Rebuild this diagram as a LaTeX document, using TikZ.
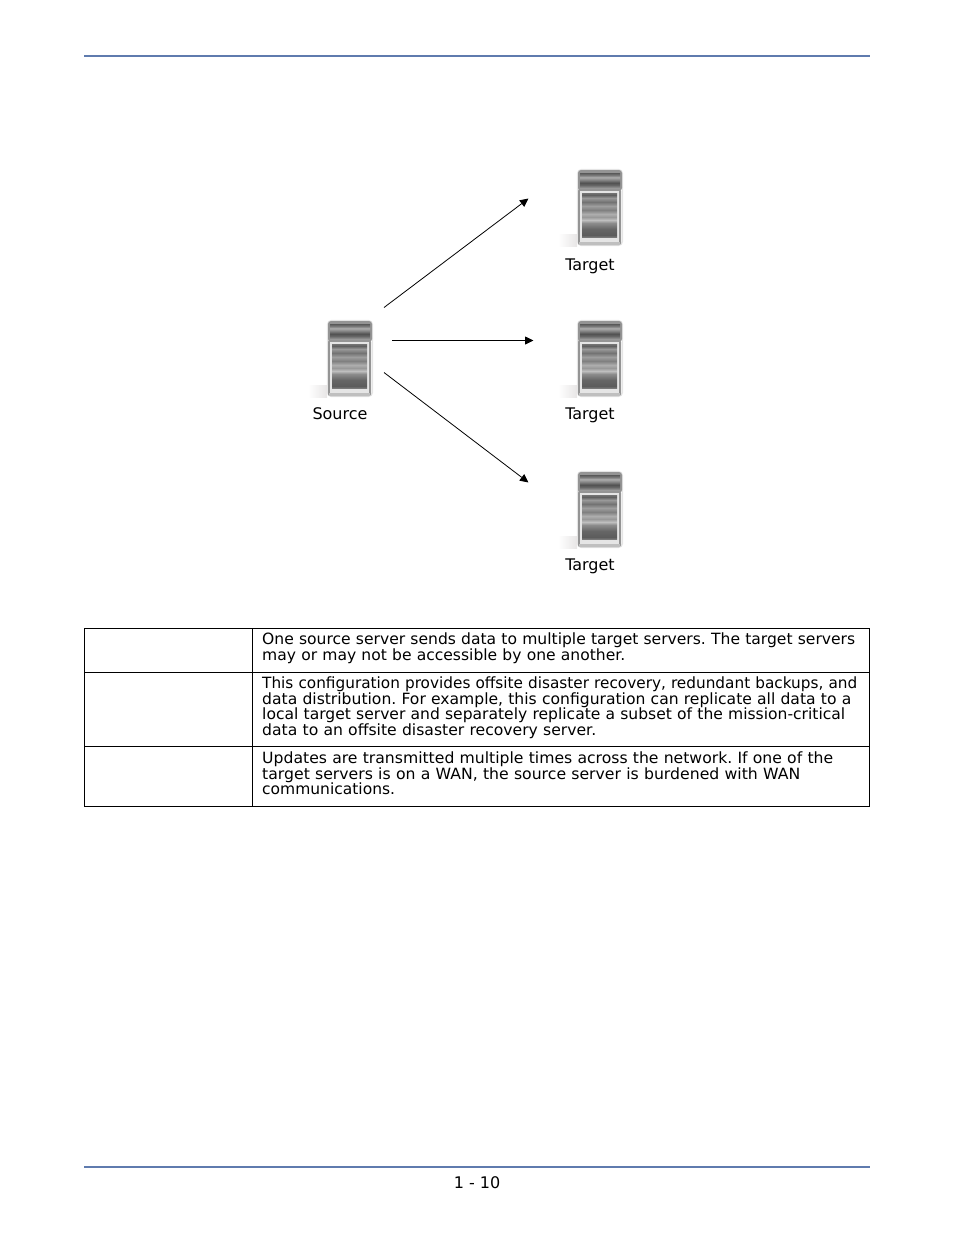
\documentclass[tikz,border=0pt]{standalone}
\usepackage{fontspec}
\usepackage{graphicx}
\setmainfont{DejaVu Sans}
\usetikzlibrary{arrows.meta}
\definecolor{rulecol}{HTML}{5F7BAE}
\newcommand{\cellrow}[2]{\resizebox{#1pt}{\height}{#2}}
\pgfdeclareverticalshading{panelshade}{100bp}{
  rgb(0bp)=(.47,.47,.47); rgb(25bp)=(.47,.47,.47); rgb(27.27bp)=(.36,.36,.36); rgb(34.09bp)=(.40,.40,.40);
  rgb(40.91bp)=(.55,.55,.55); rgb(44.32bp)=(.75,.75,.75); rgb(47.73bp)=(.60,.60,.60);
  rgb(51.14bp)=(.68,.68,.68); rgb(55.68bp)=(.50,.50,.50); rgb(60.23bp)=(.62,.62,.62);
  rgb(64.77bp)=(.45,.45,.45); rgb(69.32bp)=(.60,.60,.60); rgb(72.73bp)=(.38,.38,.38); rgb(75bp)=(.45,.45,.45); rgb(100bp)=(.45,.45,.45)}
\pgfdeclareverticalshading{capshade}{100bp}{
  rgb(0bp)=(.60,.60,.60); rgb(25bp)=(.60,.60,.60); rgb(35bp)=(.40,.40,.40); rgb(43bp)=(.32,.32,.32);
  rgb(52bp)=(.50,.50,.50); rgb(62bp)=(.68,.68,.68); rgb(68bp)=(.50,.50,.50); rgb(75bp)=(.38,.38,.38); rgb(100bp)=(.38,.38,.38)}
\tikzset{
  px/.style={x=1pt,y=-1pt},
  pagerule/.style={draw=rulecol,line width=2pt},
  cellline/.style={draw=black,line width=0.9pt},
  flow/.style={draw=black,line width=0.8pt,-{Triangle[length=8.5pt,width=8pt]}},
  label/.style={font=\fontsize{16pt}{18pt}\selectfont,inner sep=0pt,anchor=base},
  celltext/.style={font=\fontsize{15.5pt}{15.45pt}\selectfont\frenchspacing,inner sep=0pt,anchor=north west,align=left,text width=615pt},
  iconbox/.style={minimum width=44pt,minimum height=75pt,inner sep=0pt,anchor=north west},
  serverpic/.pic={
    \shade[left color=white,right color=red!8!black!10,draw=none] (-20,64) rectangle (-1,76);
    \draw[black!10,line width=1.2pt,rounded corners=4pt] (-0.5,-0.5) rectangle (44.5,75.5);
    % body
    \fill[black!42,rounded corners=3pt] (0,0) rectangle (44,21);
    \fill[black!42,rounded corners=2pt] (0,19) rectangle (43,75);
    % top cap
    \shade[shading=capshade] (2,3.5) rectangle (42,18);
    % frame
    \fill[black!10] (2,20.5) rectangle (41,71.5);
    % panel
    \shade[shading=panelshade] (4,23) rectangle (39,67);
    \fill[black!25] (1,71.5) rectangle (42,75);
  }
}
\begin{document}
\begin{tikzpicture}[px]
\useasboundingbox (0,0) rectangle (954,1235);
% page rules
\coordinate (hl) at (84,56); \coordinate (hr) at (870,56);
\coordinate (fl) at (84,1167); \coordinate (fr) at (870,1167);
\draw[pagerule] (hl) -- (hr);
\draw[pagerule] (fl) -- (fr);
\node[label] (pagenum) at (477,1188) {1 - 10};
% icons
\node[iconbox] (src) at (328,321) {};
\node[iconbox] (t1) at (578,170) {};
\node[iconbox] (t2) at (578,321) {};
\node[iconbox] (t3) at (578,472) {};
\pic at (src.north west) {serverpic};
\pic at (t1.north west) {serverpic};
\pic at (t2.north west) {serverpic};
\pic at (t3.north west) {serverpic};
\node[label] (srcl) at (340,419) {Source};
\node[label] (t1l) at (590,270) {Target};
\node[label] (t2l) at (590,419) {Target};
\node[label] (t3l) at (590,570) {Target};
% connectors
\coordinate (a1) at (384,307.5); \coordinate (b1) at (528.5,198.5);
\coordinate (a2) at (392,340.5); \coordinate (b2) at (533.5,340.5);
\coordinate (a3) at (384,372.5); \coordinate (b3) at (528.5,482.5);
\draw[flow] (a1) -- (b1);
\draw[flow] (a2) -- (b2);
\draw[flow] (a3) -- (b3);
% table
\draw[cellline] (84.5,628.5) rectangle (869.5,806.5);
\draw[cellline] (252.5,628.5) -- (252.5,806.5);
\draw[cellline] (84.5,672.5) -- (869.5,672.5);
\draw[cellline] (84.5,746.5) -- (869.5,746.5);
\node[celltext] (c1) at (262,633) {\cellrow{593}{One source server sends data to multiple target servers. The target servers}\\\cellrow{363}{may or may not be accessible by one another.}};
\node[celltext] (c2) at (262,677) {\cellrow{595}{This configuration provides offsite disaster recovery, redundant backups, and}\\\cellrow{589}{data distribution. For example, this configuration can replicate all data to a}\\\cellrow{583}{local target server and separately replicate a subset of the mission-critical}\\\cellrow{334}{data to an offsite disaster recovery server.}};
\node[celltext] (c3) at (262,752) {\cellrow{571}{Updates are transmitted multiple times across the network. If one of the}\\\cellrow{538}{target servers is on a WAN, the source server is burdened with WAN}\\communications.};
\end{tikzpicture}
\end{document}
